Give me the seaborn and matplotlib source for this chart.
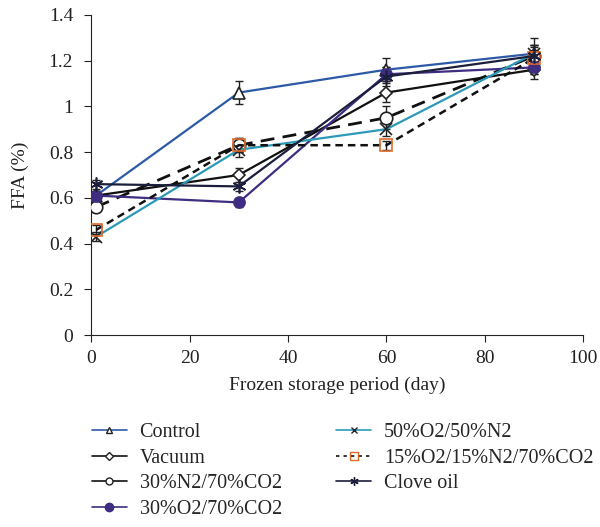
import numpy as np
import pandas as pd
import seaborn as sns
import matplotlib.pyplot as plt
from matplotlib.lines import Line2D

# DATA
days = [1, 30, 60, 90]
control = [0.61, 1.06, 1.16, 1.23]
control_err = [0.02, 0.05, 0.05, 0.04]
vacuum = [0.61, 0.70, 1.06, 1.16]
vacuum_err = [0.02, 0.03, 0.04, 0.04]
n2_co2 = [0.56, 0.83, 0.95, 1.22]
n2_co2_err = [0.02, 0.03, 0.05, 0.05]
o2_co2 = [0.61, 0.58, 1.14, 1.17]
o2_co2_err = [0.02, 0.02, 0.03, 0.03]
o2_n2 = [0.43, 0.81, 0.90, 1.23]
o2_n2_err = [0.02, 0.03, 0.03, 0.04]
mix = [0.46, 0.83, 0.83, 1.21]
mix_err = [0.02, 0.03, 0.02, 0.05]
clove = [0.66, 0.65, 1.13, 1.22]
clove_err = [0.02, 0.02, 0.04, 0.08]

labels = ['Control', 'Vacuum', '30%N2/70%CO2', '30%O2/70%CO2',
          '50%O2/50%N2', '15%O2/15%N2/70%CO2', 'Clove oil']

# STYLE
sns.set_style('ticks')
plt.rcParams['font.family'] = ['Liberation Serif', 'DejaVu Serif']
plt.rcParams['font.size'] = 14

series = [
    # values, errors, line colour, linestyle, marker, marker face, marker edge, marker size, lw
    (control, control_err, '#2D5AA6', '-', '^', 'white', '#222222', 9, 1.6),
    (vacuum, vacuum_err, '#111111', '-', 'D', 'white', '#222222', 6, 1.6),
    (n2_co2, n2_co2_err, '#111111', (0, (5, 3)), 'o', 'white', '#222222', 9, 2.0),
    (o2_co2, o2_co2_err, '#3E2D80', '-', 'o', '#3E2D80', '#3E2D80', 8, 1.6),
    (o2_n2, o2_n2_err, '#2C9AB7', '-', 'x', '#222222', '#222222', 8, 1.6),
    (mix, mix_err, '#111111', (0, (3, 2)), 's', 'none', '#E06A2A', 9, 1.8),
    (clove, clove_err, '#1B1F3B', '-', (6, 2, 0), '#1B1F3B', '#1B1F3B', 10, 1.6),
]

fig = plt.figure(figsize=(6, 5.27), dpi=100)
ax = fig.add_axes([0.152, 0.364, 0.82, 0.608])

for (vals, errs, col, ls, mk, mfc, mec, ms, lw), lab in zip(series, labels):
    df = pd.DataFrame({'day': days, 'ffa': vals})
    ax.errorbar(days, vals, yerr=errs, fmt='none', ecolor='#222222',
                elinewidth=1, capsize=3, zorder=2)
    sns.lineplot(data=df, x='day', y='ffa', ax=ax, color=col, linestyle=ls,
                 linewidth=lw, marker=mk, markersize=ms, markerfacecolor=mfc,
                 markeredgecolor=mec, markeredgewidth=1.2, zorder=3)

ax.set_xlim(0, 100)
ax.set_ylim(0, 1.4)
ax.set_xticks([0, 20, 40, 60, 80, 100])
ax.set_yticks([0, 0.2, 0.4, 0.6, 0.8, 1, 1.2, 1.4])
ax.set_yticklabels(['0', '0.2', '0.4', '0.6', '0.8', '1', '1.2', '1.4'])
ax.tick_params(labelsize=14, direction='out', length=5, colors='#222222')
ax.tick_params(axis='y', pad=8)
ax.tick_params(axis='x', pad=6)
ax.set_xlabel('Frozen storage period (day)', fontsize=14, color='#222222', labelpad=7)
ax.set_ylabel('FFA (%)', fontsize=14, color='#222222', labelpad=14)
sns.despine(ax=ax)
for sp in ['left', 'bottom']:
    ax.spines[sp].set_color('#222222')

# LEGEND (handles drawn like in the reference key)
handles = [
    Line2D([], [], color='#2D5AA6', lw=1.2, marker='^', ms=5, mfc='white', mec='#222222'),
    Line2D([], [], color='#111111', lw=1.2, marker='D', ms=4, mfc='white', mec='#222222'),
    Line2D([], [], color='#111111', lw=1.2, marker='o', ms=5, mfc='white', mec='#222222'),
    Line2D([], [], color='#3E2D80', lw=1.2, marker='o', ms=6, mfc='#3E2D80', mec='#3E2D80'),
    Line2D([], [], color='#2C9AB7', lw=1.2, marker='x', ms=5, mec='#222222'),
    Line2D([], [], color='#111111', lw=1.2, ls=(0, (2, 2.5)), marker='s', ms=6, mfc='none', mec='#E06A2A'),
    Line2D([], [], color='#1B1F3B', lw=1.2, marker=(6, 2, 0), ms=6, mec='#1B1F3B'),
]
fig.legend(handles, labels, ncol=2, loc='upper left', bbox_to_anchor=(0.153, 0.197),
           frameon=False, fontsize=14.5, handlelength=1.75, handletextpad=0.62,
           columnspacing=2.7, labelspacing=0.32, borderaxespad=0, borderpad=0)

plt.savefig('out.png', dpi=100)
plt.close()
